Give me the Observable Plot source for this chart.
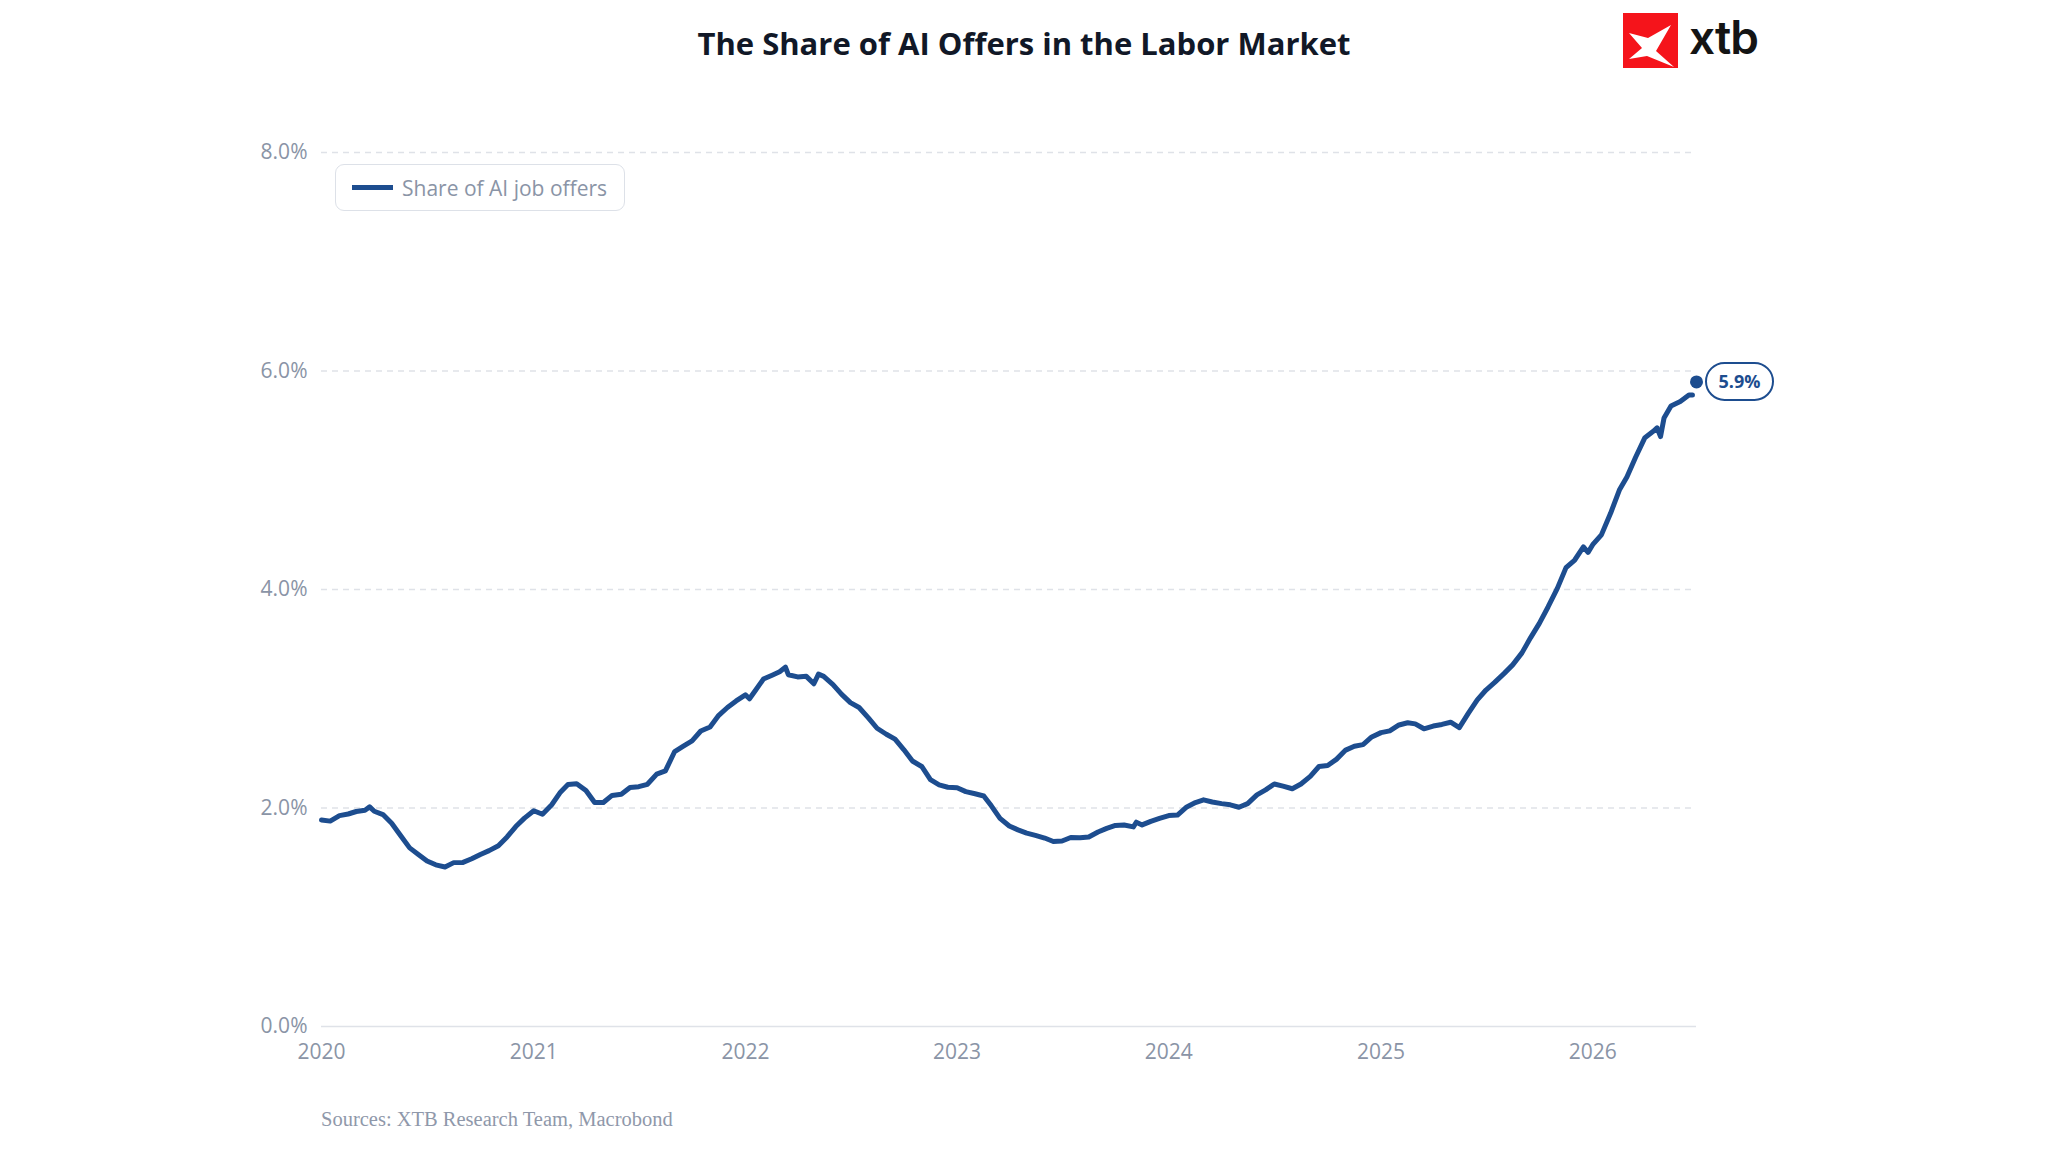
<!DOCTYPE html>
<html>
<head>
<meta charset="utf-8">
<script src="https://cdn.jsdelivr.net/npm/d3@7"></script>
<script src="https://cdn.jsdelivr.net/npm/@observablehq/plot@0.6"></script>
<style>
  html, body { margin: 0; padding: 0; background: #ffffff; }
  #page { position: relative; width: 2048px; height: 1152px; overflow: hidden; background: #fff; font-family: "Open Sans", "Noto Sans", sans-serif; }
  #title { position: absolute; left: 0; top: 28px; width: 2048px; text-align: center; font-size: 31px; line-height: 31px; font-weight: 700; color: #111827; }
  #logo { position: absolute; left: 1623px; top: 13px; width: 55px; height: 55px; background: #f5141b; }
  #logotext { position: absolute; left: 1689px; top: 14px; font-family: Inter, "Open Sans", sans-serif; font-size: 46px; line-height: 46px; font-weight: 600; color: #141414; letter-spacing: -1px; }
  #chart { position: absolute; left: 0; top: 111px; }
  #legend { position: absolute; left: 335px; top: 164px; width: 288px; height: 45px; border: 1.5px solid #dde1e8; border-radius: 9px; background: #fff; display: flex; align-items: center; box-sizing: content-box; }
  #legend .sw { width: 41px; height: 5px; background: #1d4d8f; margin-left: 16px; margin-right: 9px; }
  #legend .lt { font-size: 21px; color: #8a94a6; }
  #source { position: absolute; left: 321px; top: 1109px; font-family: "Liberation Serif", "DejaVu Serif", serif; font-size: 20.5px; line-height: 21px; color: #8f98aa; }
</style>
</head>
<body>
<div id="page">
  <div id="title">The Share of AI Offers in the Labor Market</div>
  <div id="logo">
    <svg width="55" height="55" viewBox="0 0 55 55">
      <path d="M6,20 L25,25 L48,12 L33,38 L51,54 L24,43 L6,46 L19,35 Z" fill="#ffffff"/>
    </svg>
  </div>
  <div id="logotext">xtb</div>
  <div id="chart"></div>
  <div id="legend"><div class="sw"></div><div class="lt">Share of AI job offers</div></div>
  <div id="source">Sources: XTB Research Team, Macrobond</div>
</div>
<script>
// ---- data ----
const seriesName = "Share of AI job offers";
const series = [
  ["2020-01-01",1.89],["2020-01-16",1.88],["2020-02-01",1.93],["2020-02-16",1.945],
  ["2020-03-01",1.968],["2020-03-16",1.98],["2020-03-24",2.01],["2020-04-01",1.97],
  ["2020-04-16",1.94],["2020-05-01",1.86],["2020-05-16",1.75],["2020-06-01",1.635],
  ["2020-06-16",1.575],["2020-07-01",1.515],["2020-07-16",1.48],["2020-08-01",1.46],
  ["2020-08-16",1.50],["2020-09-01",1.502],["2020-09-16",1.535],["2020-10-01",1.575],
  ["2020-10-16",1.61],["2020-11-01",1.655],["2020-11-16",1.735],["2020-12-01",1.83],
  ["2020-12-16",1.907],
  ["2021-01-01",1.975],["2021-01-16",1.943],["2021-02-01",2.03],["2021-02-16",2.145],
  ["2021-03-01",2.215],["2021-03-16",2.222],["2021-04-01",2.16],["2021-04-16",2.05],
  ["2021-05-01",2.05],["2021-05-16",2.115],["2021-06-01",2.125],["2021-06-16",2.187],
  ["2021-07-01",2.195],["2021-07-16",2.217],["2021-08-01",2.31],["2021-08-16",2.34],
  ["2021-09-01",2.517],["2021-09-16",2.567],["2021-10-01",2.615],["2021-10-16",2.705],
  ["2021-11-01",2.742],["2021-11-16",2.848],["2021-12-01",2.92],["2021-12-16",2.98],
  ["2022-01-01",3.036],["2022-01-08",3.0],["2022-01-16",3.06],["2022-02-01",3.18],
  ["2022-02-16",3.215],["2022-03-01",3.247],["2022-03-11",3.29],["2022-03-16",3.22],
  ["2022-04-01",3.2],["2022-04-16",3.205],["2022-04-29",3.137],["2022-05-07",3.225],
  ["2022-05-16",3.205],["2022-06-01",3.13],["2022-06-16",3.04],["2022-07-01",2.965],
  ["2022-07-16",2.92],["2022-08-01",2.825],["2022-08-16",2.73],["2022-09-01",2.675],
  ["2022-09-16",2.63],["2022-10-01",2.535],["2022-10-16",2.43],["2022-11-01",2.38],
  ["2022-11-16",2.26],["2022-12-01",2.212],["2022-12-16",2.19],
  ["2023-01-01",2.185],["2023-01-16",2.15],["2023-02-01",2.13],["2023-02-16",2.11],
  ["2023-03-01",2.02],["2023-03-16",1.905],["2023-04-01",1.835],["2023-04-16",1.80],
  ["2023-05-01",1.77],["2023-05-16",1.75],["2023-06-01",1.725],["2023-06-16",1.693],
  ["2023-07-01",1.698],["2023-07-16",1.73],["2023-08-01",1.728],["2023-08-16",1.735],
  ["2023-09-01",1.78],["2023-09-16",1.813],["2023-10-01",1.84],["2023-10-16",1.845],
  ["2023-11-01",1.827],["2023-11-06",1.87],["2023-11-16",1.845],["2023-12-01",1.878],
  ["2023-12-16",1.905],
  ["2024-01-01",1.931],["2024-01-16",1.935],["2024-02-01",2.01],["2024-02-16",2.05],
  ["2024-03-01",2.075],["2024-03-16",2.055],["2024-04-01",2.04],["2024-04-16",2.029],
  ["2024-05-01",2.007],["2024-05-16",2.04],["2024-06-01",2.12],["2024-06-16",2.166],
  ["2024-07-01",2.22],["2024-07-16",2.2],["2024-08-01",2.176],["2024-08-16",2.22],
  ["2024-09-01",2.29],["2024-09-16",2.38],["2024-10-01",2.389],["2024-10-16",2.445],
  ["2024-11-01",2.53],["2024-11-16",2.565],["2024-12-01",2.58],["2024-12-16",2.65],
  ["2025-01-01",2.69],["2025-01-16",2.706],["2025-02-01",2.76],["2025-02-16",2.78],
  ["2025-03-01",2.77],["2025-03-16",2.725],["2025-04-01",2.75],["2025-04-16",2.765],
  ["2025-05-01",2.785],["2025-05-16",2.735],["2025-06-01",2.87],["2025-06-16",2.99],
  ["2025-07-01",3.08],["2025-07-16",3.15],["2025-08-01",3.23],["2025-08-16",3.31],
  ["2025-09-01",3.42],["2025-09-16",3.56],["2025-10-01",3.69],["2025-10-16",3.84],
  ["2025-11-01",4.01],["2025-11-16",4.2],["2025-12-01",4.27],["2025-12-16",4.39],
  ["2025-12-24",4.34],
  ["2026-01-01",4.41],["2026-01-16",4.50],["2026-02-01",4.70],["2026-02-16",4.91],
  ["2026-03-01",5.03],["2026-03-16",5.21],["2026-04-01",5.39],["2026-04-16",5.45],
  ["2026-04-22",5.48],["2026-04-28",5.40],["2026-05-04",5.57],["2026-05-16",5.68],
  ["2026-06-01",5.72],["2026-06-16",5.78],["2026-06-22",5.78]
];
const lastPoint = ["2026-06-29", 5.9];
const lastLabel = "5.9%";
const yTicks = [0, 2, 4, 6, 8];
const xTickLabels = ["2020","2021","2022","2023","2024","2025","2026"];
const xDomain = ["2020-01-01", "2026-06-29"];

// ---- drawing ----
const lineColor = "#1d4d8f";
const axisColor = "#8a94a6";
const gridColor = "#dfe2e8";

const rows = series.map(([d, v]) => ({date: new Date(d), value: v}));
const last = {date: new Date(lastPoint[0]), value: lastPoint[1]};
const xTicks = xTickLabels.map(y => new Date(y + "-01-01"));

const chart = Plot.plot({
  width: 2048,
  height: 980,
  marginTop: 41,
  marginBottom: 65,
  marginLeft: 321,
  marginRight: 352,
  style: {fontFamily: "'Open Sans', 'Noto Sans', sans-serif", fontSize: "21px", color: axisColor, background: "transparent"},
  x: {type: "utc", domain: xDomain.map(d => new Date(d))},
  y: {domain: [0, 8]},
  marks: [
    Plot.gridY(yTicks.filter(t => t !== 0), {stroke: gridColor, strokeOpacity: 1, strokeWidth: 1.5, strokeDasharray: "6,5"}),
    Plot.ruleY([0], {stroke: gridColor, strokeWidth: 1.5}),
    Plot.axisY(yTicks, {tickSize: 0, tickPadding: 14, tickFormat: d => d.toFixed(1) + "%", label: null}),
    Plot.axisX(xTicks, {tickSize: 0, tickPadding: 18, tickFormat: d => d3.utcFormat("%Y")(d), label: null}),
    Plot.line(rows, {x: "date", y: "value", stroke: lineColor, strokeWidth: 5, strokeLinejoin: "round", strokeLinecap: "round"}),
    Plot.dot([last], {x: "date", y: "value", r: 6.5, fill: lineColor, stroke: "none"})
  ]
});
document.getElementById("chart").appendChild(chart);

// value pill next to the last point, positioned through the plot's own scales
const cx = chart.scale("x").apply(last.date);
const cy = chart.scale("y").apply(last.value);
const g = d3.select(chart).append("g");
g.append("rect")
  .attr("x", cx + 10).attr("y", cy - 18.5)
  .attr("width", 67).attr("height", 37)
  .attr("rx", 18.5).attr("ry", 18.5)
  .attr("fill", "#ffffff").attr("stroke", lineColor).attr("stroke-width", 2);
g.append("text")
  .attr("x", cx + 10 + 33.5).attr("y", cy + 6.5)
  .attr("text-anchor", "middle")
  .attr("font-family", "'Open Sans', sans-serif")
  .attr("font-size", 18).attr("font-weight", 700)
  .attr("fill", lineColor)
  .text(lastLabel);
</script>
</body>
</html>
